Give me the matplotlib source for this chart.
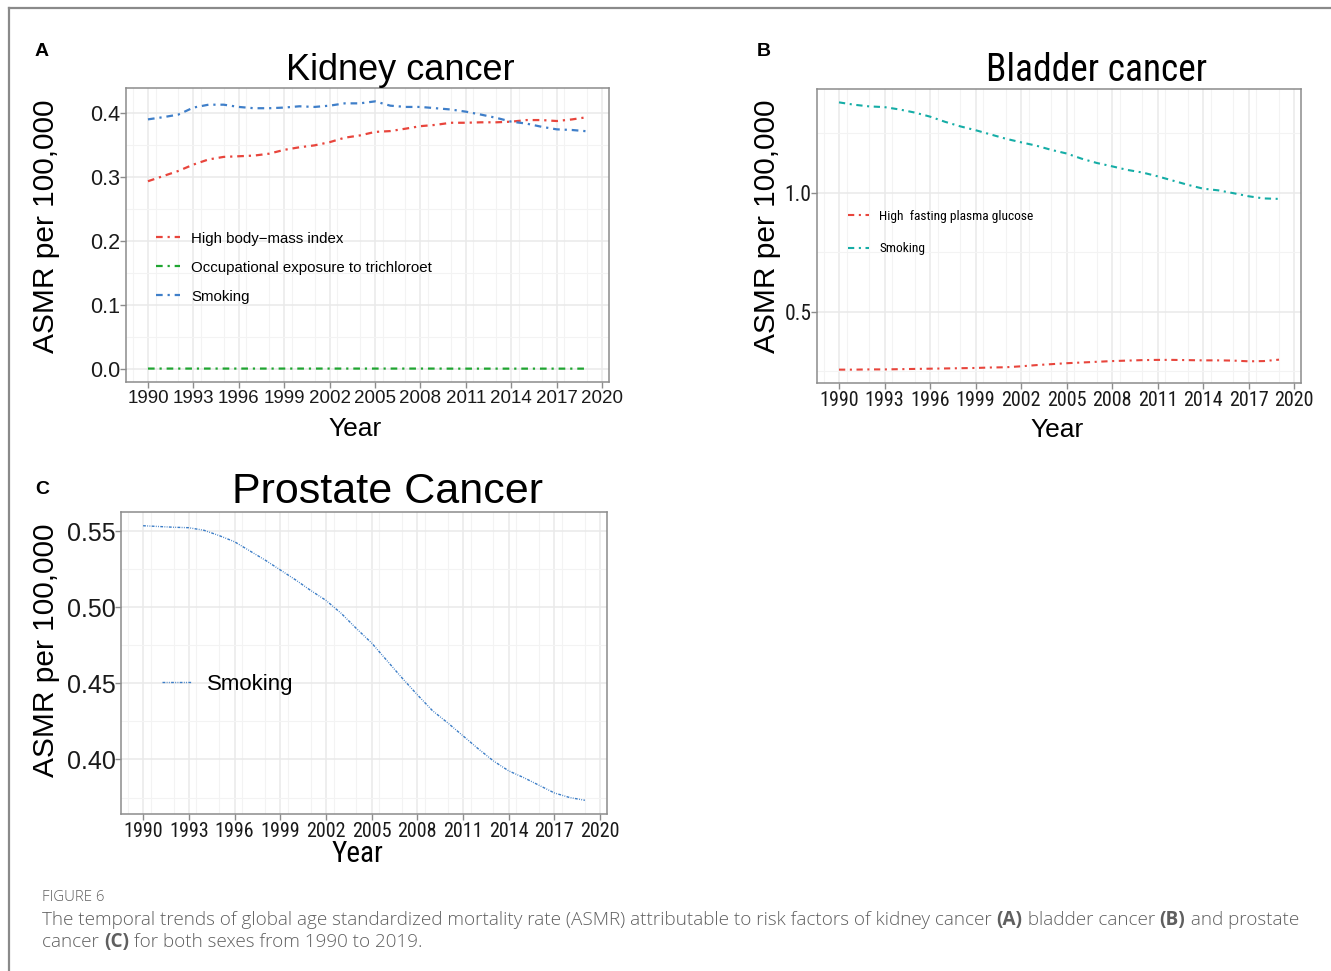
import matplotlib
matplotlib.use("Agg")
import matplotlib.pyplot as plt
from matplotlib import font_manager
from matplotlib.font_manager import FontProperties
from matplotlib.ticker import MultipleLocator, FormatStrFormatter

# ---------------- data ----------------
years = list(range(1990, 2020))

kidney_bmi = [0.293, 0.301, 0.309, 0.319, 0.327, 0.331, 0.332, 0.333, 0.336, 0.342,
              0.346, 0.349, 0.354, 0.361, 0.3645, 0.370, 0.3713, 0.375, 0.379, 0.381,
              0.3843, 0.3843, 0.385, 0.385, 0.386, 0.3885, 0.3885, 0.387, 0.3895, 0.393]
kidney_tce = [0.0005, 0.0005, 0.0005, 0.0005, 0.0005, 0.0005, 0.0005, 0.0005, 0.0005, 0.0005,
              0.0005, 0.0005, 0.0005, 0.0005, 0.0005, 0.0005, 0.0005, 0.0005, 0.0005, 0.0005,
              0.0004, 0.0004, 0.0004, 0.0004, 0.0004, 0.0004, 0.0004, 0.0004, 0.0004, 0.0004]
kidney_smoking = [0.3896, 0.393, 0.397, 0.408, 0.4125, 0.4125, 0.409, 0.407, 0.407, 0.408,
                  0.410, 0.409, 0.411, 0.4146, 0.4146, 0.4177, 0.411, 0.409, 0.409, 0.407,
                  0.405, 0.4016, 0.397, 0.392, 0.386, 0.383, 0.378, 0.374, 0.373, 0.371]

bladder_fpg = [0.256, 0.256, 0.257, 0.257, 0.258, 0.259, 0.260, 0.261, 0.262, 0.263,
               0.265, 0.266, 0.270, 0.275, 0.279, 0.283, 0.286, 0.289, 0.292, 0.294,
               0.296, 0.297, 0.297, 0.296, 0.295, 0.295, 0.294, 0.291, 0.292, 0.298]
bladder_smoking = [1.380, 1.370, 1.363, 1.360, 1.350, 1.337, 1.320, 1.298, 1.279, 1.263,
                   1.245, 1.227, 1.212, 1.198, 1.180, 1.165, 1.143, 1.125, 1.111, 1.096,
                   1.085, 1.069, 1.051, 1.033, 1.017, 1.010, 0.998, 0.985, 0.976, 0.974]

prostate_smoking = [0.5535, 0.553, 0.5525, 0.5522, 0.5505, 0.547, 0.543, 0.537, 0.531, 0.5245,
                    0.518, 0.511, 0.5045, 0.496, 0.486, 0.4765, 0.465, 0.4535, 0.4425, 0.432,
                    0.424, 0.4155, 0.407, 0.399, 0.3925, 0.388, 0.383, 0.378, 0.375, 0.3732]

kidney_labels = ["High body\u2212mass index", "Occupational exposure to trichloroet", "Smoking"]
bladder_labels = ["High  fasting plasma glucose", "Smoking"]
prostate_labels = ["Smoking"]
year_ticks = list(range(1990, 2021, 3))

# ---------------- fonts ----------------
ttf = font_manager.fontManager.ttflist
available = {f.name for f in ttf}
REG = "Liberation Sans" if "Liberation Sans" in available else "DejaVu Sans"
CAP = "Open Sans" if "Open Sans" in available else REG


def find_narrow():
    prefs = ["Liberation Sans Narrow", "Arial Narrow", "Roboto Condensed",
             "DejaVu Sans Condensed", "Open Sans Condensed"]
    for p in prefs:
        for f in ttf:
            if f.name == p and f.style == "normal" and f.weight in (400, "normal", "regular"):
                return f.fname
    for f in ttf:
        if (f.stretch in ("condensed", "semi-condensed") or "Condensed" in f.fname
                or "Narrow" in f.fname) and f.style == "normal" and \
                f.weight in (400, "normal", "regular") and "Bold" not in f.fname \
                and "Oblique" not in f.fname and "Italic" not in f.fname:
            return f.fname
    return None


narrow_path = find_narrow()
HAS_NARROW = narrow_path is not None


def fp(size, narrow=False, family=None, weight="normal"):
    if narrow and narrow_path:
        return FontProperties(fname=narrow_path, size=size)
    return FontProperties(family=family or REG, size=size, weight=weight)


W, H = 1331, 971
fig = plt.figure(figsize=(W / 100, H / 100), dpi=100)


def rect(l, t, r, b):
    return [l / W, 1 - b / H, (r - l) / W, (b - t) / H]


def style_axes(ax, ymajor, yminor, yfmt, xprop, yprop):
    ax.set_xlim(1988.55, 2020.45)
    ax.set_xticks(year_ticks)
    ax.xaxis.set_minor_locator(MultipleLocator(1.5))
    ax.yaxis.set_major_locator(MultipleLocator(ymajor))
    ax.yaxis.set_minor_locator(MultipleLocator(yminor))
    ax.yaxis.set_major_formatter(FormatStrFormatter(yfmt))
    ax.grid(which="major", color="#e9e9e9", linewidth=1.1)
    ax.grid(which="minor", color="#f3f3f3", linewidth=0.8)
    ax.set_axisbelow(True)
    for s in ax.spines.values():
        s.set_color("#8c8c8c")
        s.set_linewidth(1.1)
    ax.tick_params(which="major", length=4, width=1, color="#8c8c8c")
    ax.tick_params(axis="x", which="major", pad=1.5)
    ax.tick_params(axis="y", which="major", pad=0)
    ax.tick_params(which="minor", length=0)
    for lab in ax.get_xticklabels():
        lab.set_fontproperties(xprop)
        lab.set_color("#1a1a1a")
    for lab in ax.get_yticklabels():
        lab.set_fontproperties(yprop)
        lab.set_color("#1a1a1a")


dotdash = (0, (3.0, 2.2, 1.0, 2.2))

# ---------------- A: kidney ----------------
axA = fig.add_axes(rect(126, 88, 609, 382))
axA.plot(years, kidney_bmi, color="#e8453c", lw=1.6, ls=dotdash, label=kidney_labels[0])
axA.plot(years, kidney_tce, color="#1fa531", lw=1.6, ls=dotdash, label=kidney_labels[1])
axA.plot(years, kidney_smoking, color="#3f7fc9", lw=1.6, ls=dotdash, label=kidney_labels[2])
axA.margins(y=0.05)
style_axes(axA, 0.1, 0.05, "%.1f", fp(13.5), fp(15.5))
axA.set_title("Kidney cancer", fontproperties=fp(26), x=(400 - 126) / 483, pad=6)
axA.set_xlabel("Year", fontproperties=fp(19))
axA.xaxis.set_label_coords((355 - 126) / 483, -0.12)
axA.set_ylabel("ASMR per 100,000", fontproperties=fp(21.5))
axA.yaxis.set_label_coords((60 - 126) / 483, 0.53)
axA.legend(loc="upper left", bbox_to_anchor=(0.035, 0.557), frameon=False,
           prop=fp(10.8), handlelength=1.55, handletextpad=0.75, labelspacing=1.0)

# ---------------- B: bladder ----------------
axB = fig.add_axes(rect(817, 89, 1301, 383))
axB.plot(years, bladder_fpg, color="#e8453c", lw=1.5, ls=dotdash, label=bladder_labels[0])
axB.plot(years, bladder_smoking, color="#15ada6", lw=1.5, ls=dotdash, label=bladder_labels[1])
axB.margins(y=0.05)
style_axes(axB, 0.5, 0.25, "%.1f",
           fp(14.5 if HAS_NARROW else 12, HAS_NARROW), fp(15.5 if HAS_NARROW else 14.5, HAS_NARROW))
axB.set_title("Bladder cancer", fontproperties=fp(27 if HAS_NARROW else 23.5, HAS_NARROW),
              x=(1097 - 817) / 484, pad=6)
axB.set_xlabel("Year", fontproperties=fp(19))
axB.xaxis.set_label_coords((1057 - 817) / 484, -0.12)
axB.set_ylabel("ASMR per 100,000", fontproperties=fp(21.5))
axB.yaxis.set_label_coords((781 - 817) / 484, 0.534)
axB.legend(loc="upper left", bbox_to_anchor=(0.039, 0.63), frameon=False,
           prop=fp(9.6 if HAS_NARROW else 8.2, HAS_NARROW), handlelength=1.6,
           handletextpad=0.75, labelspacing=1.47)

# ---------------- C: prostate ----------------
axC = fig.add_axes(rect(121, 512, 607, 814))
axC.plot(years, prostate_smoking, color="#3a7cc6", lw=1.0,
         ls=(0, (2.0, 1.0, 0.6, 1.0, 0.6, 1.0)), label=prostate_labels[0])
axC.margins(y=0.05)
style_axes(axC, 0.05, 0.025, "%.2f",
           fp(14.5 if HAS_NARROW else 13, HAS_NARROW), fp(18))
axC.set_title("Prostate Cancer", fontproperties=fp(31), x=(387 - 121) / 486, pad=4)
axC.set_xlabel("Year", fontproperties=fp(21 if HAS_NARROW else 19, HAS_NARROW))
axC.xaxis.set_label_coords((357 - 121) / 486, -0.085)
axC.set_ylabel("ASMR per 100,000", fontproperties=fp(21.5))
axC.yaxis.set_label_coords((60 - 121) / 486, 0.543)
axC.legend(loc="center left", bbox_to_anchor=(0.043, 0.43), frameon=False,
           prop=fp(16), handlelength=1.35, handletextpad=0.7)

# ---------------- panel letters ----------------
for x, y, s in [(42, 52, "A"), (764, 52, "B"), (42, 490, "C")]:
    fig.text(x / W, 1 - y / H, s, fontproperties=fp(14, weight="bold"),
             ha="center", va="center")

# ---------------- frame lines ----------------
fig.add_artist(plt.Line2D([8.5 / W, 8.5 / W], [0, 1 - 8 / H], color="#8a8a8a", lw=1.6,
                          transform=fig.transFigure))
fig.add_artist(plt.Line2D([8.5 / W, 1330 / W], [1 - 8 / H, 1 - 8 / H], color="#8a8a8a",
                          lw=1.6, transform=fig.transFigure))

# ---------------- caption ----------------
fig.text(42 / W, 1 - 897 / H, "FIGURE 6", fontsize=10.8, fontfamily=CAP, color="#5f5f5f",
         fontweight=300, va="center")

renderer = fig.canvas.get_renderer()


def rich_line(x_px, y_px, parts, size=13.6):
    x = x_px / W
    for txt, bold in parts:
        t = fig.text(x, 1 - y_px / H, txt, fontsize=size, fontfamily=CAP,
                     fontweight="bold" if bold else 300, color="#5f5f5f",
                     va="center", ha="left")
        bb = t.get_window_extent(renderer=renderer)
        x += bb.width / W


rich_line(42, 920, [
    ("The temporal trends of global age standardized mortality rate (ASMR) attributable to risk factors of kidney cancer ", False),
    ("(A)", True), (" bladder cancer ", False), ("(B)", True), (" and prostate", False)])
rich_line(42, 942, [("cancer ", False), ("(C)", True), (" for both sexes from 1990 to 2019.", False)])

fig.savefig("out.png", dpi=100)
